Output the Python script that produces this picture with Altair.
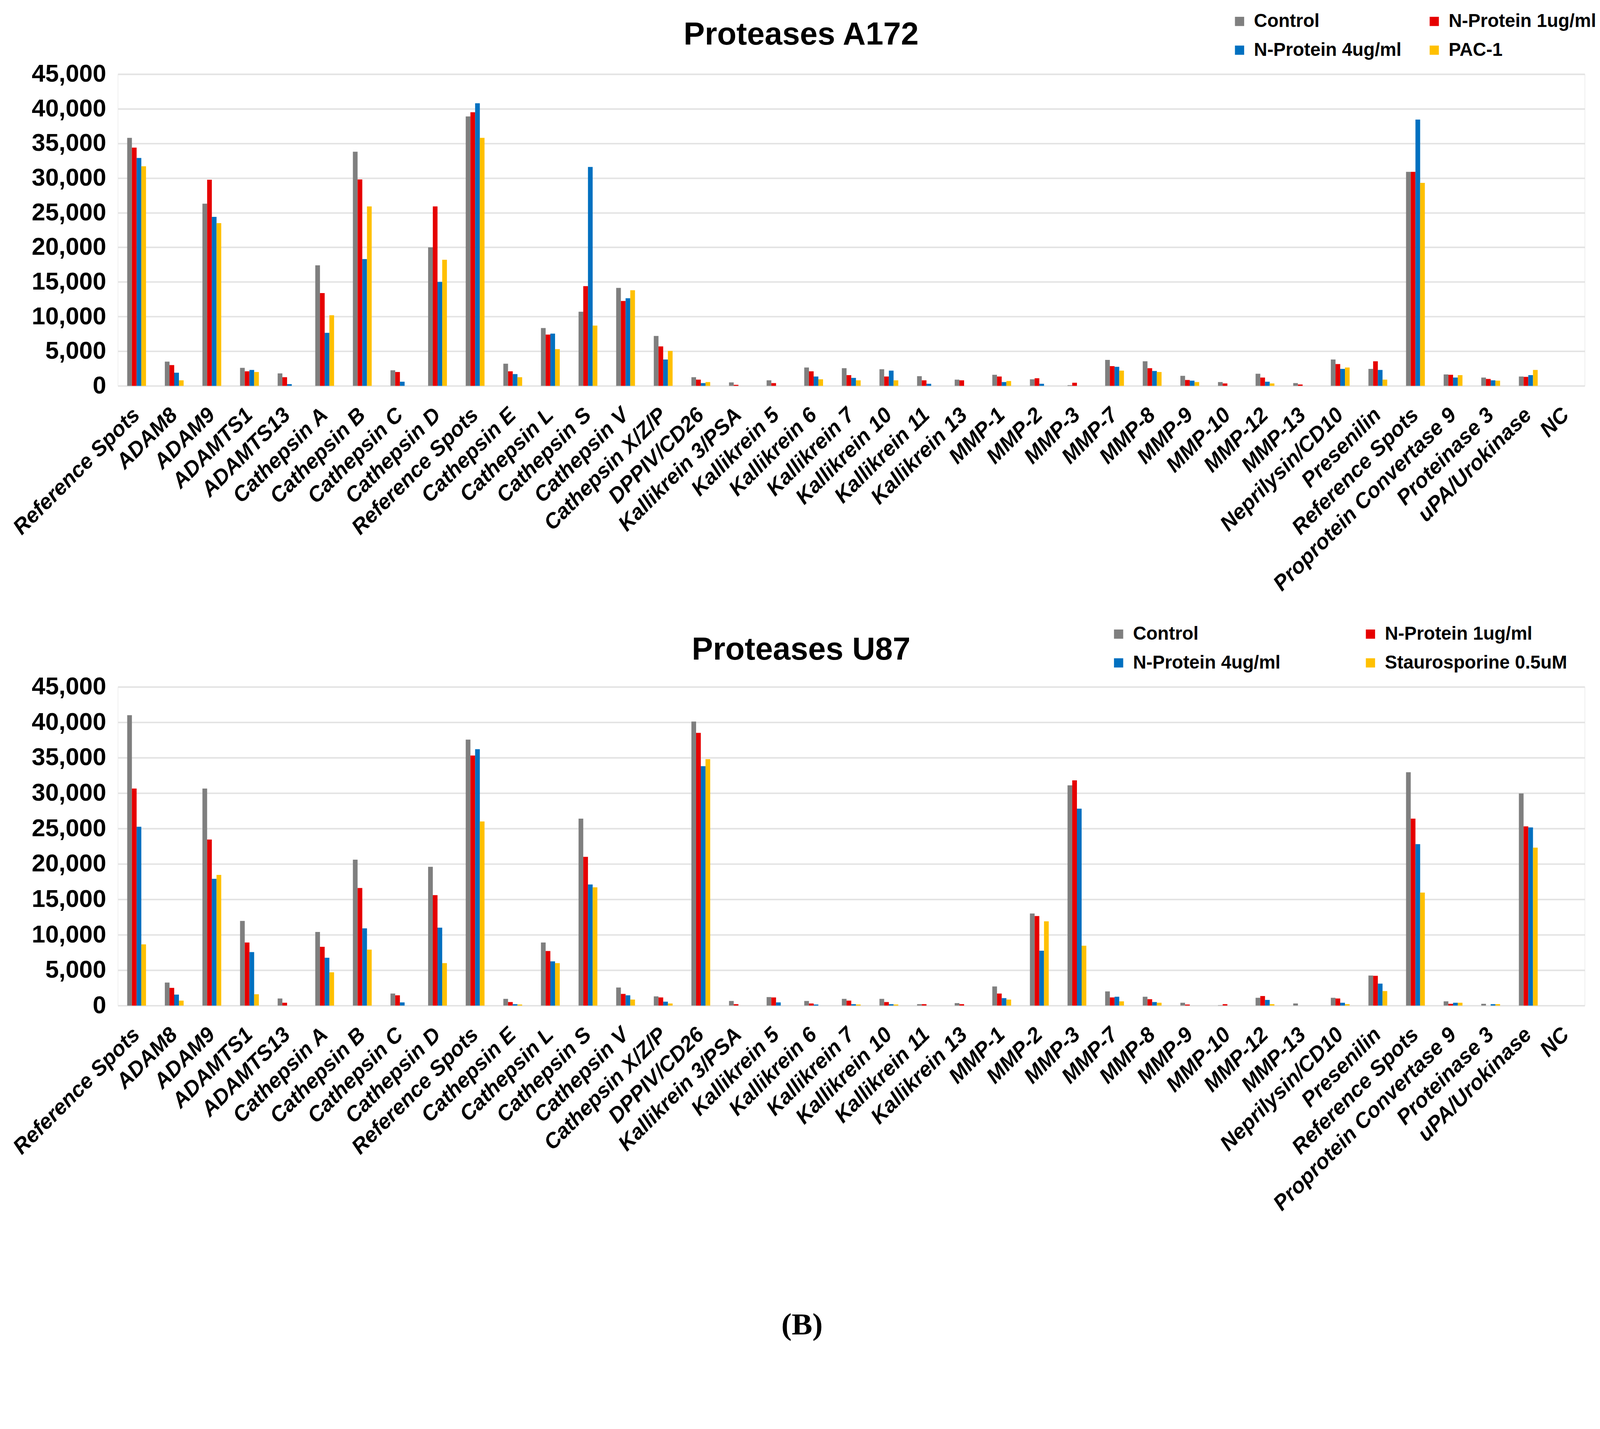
import altair as alt
import pandas as pd

PROTEASES = [
    "Reference Spots", "ADAM8", "ADAM9", "ADAMTS1", "ADAMTS13", "Cathepsin A",
    "Cathepsin B", "Cathepsin C", "Cathepsin D", "Reference Spots", "Cathepsin E",
    "Cathepsin L", "Cathepsin S", "Cathepsin V", "Cathepsin X/Z/P", "DPPIV/CD26",
    "Kallikrein 3/PSA", "Kallikrein 5", "Kallikrein 6", "Kallikrein 7",
    "Kallikrein 10", "Kallikrein 11", "Kallikrein 13", "MMP-1", "MMP-2", "MMP-3",
    "MMP-7", "MMP-8", "MMP-9", "MMP-10", "MMP-12", "MMP-13", "Neprilysin/CD10",
    "Presenilin", "Reference Spots", "Proprotein Convertase 9", "Proteinase 3",
    "uPA/Urokinase", "NC",
]

SERIES_A172 = ["Control", "N-Protein 1ug/ml", "N-Protein 4ug/ml", "PAC-1"]
SERIES_U87 = ["Control", "N-Protein 1ug/ml", "N-Protein 4ug/ml", "Staurosporine 0.5uM"]
COLOURS = ["#7f7f7f", "#e60000", "#0070c0", "#ffc000"]

# A172
A172_CONTROL = [35800, 3500, 26300, 2600, 1800, 17400, 33800, 2250, 20000, 38900,
                3200, 8350, 10700, 14150, 7200, 1250, 500, 800, 2650, 2550, 2400,
                1400, 900, 1600, 950, 100, 3750, 3550, 1450, 550, 1750, 400, 3800,
                2450, 30900, 1650, 1200, 1350, 0]
A172_N1 = [34400, 3000, 29750, 2100, 1250, 13400, 29800, 2000, 25900, 39500,
           2100, 7400, 14400, 12250, 5700, 900, 150, 400, 2100, 1550, 1350,
           800, 800, 1350, 1100, 450, 2850, 2550, 850, 350, 1200, 200, 3150,
           3550, 30900, 1600, 1000, 1300, 0]
A172_N4 = [32900, 1900, 24400, 2300, 250, 7650, 18300, 600, 15000, 40800,
           1700, 7550, 31600, 12650, 3800, 400, 0, 0, 1350, 1150, 2200,
           300, 0, 550, 300, 0, 2750, 2150, 750, 0, 600, 0, 2450,
           2300, 38450, 1200, 800, 1550, 0]
A172_PAC1 = [31700, 800, 23500, 2000, 0, 10200, 25900, 0, 18200, 35800,
             1250, 5300, 8700, 13800, 5050, 550, 0, 0, 950, 800, 800,
             0, 0, 700, 0, 0, 2200, 2000, 550, 0, 350, 0, 2650,
             900, 29300, 1550, 750, 2300, 0]

# U87
U87_CONTROL = [41000, 3250, 30650, 11950, 1000, 10400, 20600, 1700, 19600, 37550,
               950, 8900, 26400, 2550, 1300, 40100, 650, 1200, 650, 950, 950,
               200, 350, 2700, 13000, 31100, 2000, 1250, 400, 50, 1100, 300, 1100,
               4250, 32950, 600, 250, 29950, 0]
U87_N1 = [30650, 2500, 23450, 8900, 400, 8300, 16600, 1450, 15600, 35300,
          500, 7700, 21000, 1650, 1150, 38500, 200, 1150, 300, 700, 500,
          200, 200, 1700, 12650, 31800, 1150, 900, 150, 200, 1350, 0, 1000,
          4200, 26400, 250, 0, 25300, 0]
U87_N4 = [25250, 1550, 17900, 7550, 0, 6750, 10900, 450, 11000, 36200,
          200, 6250, 17100, 1450, 550, 33800, 0, 450, 150, 200, 200,
          0, 0, 1050, 7750, 27800, 1250, 500, 0, 0, 800, 0, 400,
          3100, 22800, 400, 200, 25150, 0]
U87_STAU = [8650, 700, 18450, 1600, 0, 4700, 7900, 0, 6000, 26000,
            150, 6000, 16700, 850, 300, 34800, 0, 0, 0, 150, 150,
            0, 0, 850, 11900, 8450, 600, 400, 0, 0, 200, 0, 200,
            2050, 15950, 400, 200, 22300, 0]

Y_TICKS = [0, 5000, 10000, 15000, 20000, 25000, 30000, 35000, 40000, 45000]

FONT = "Liberation Sans"
PLOT_WIDTH = 3978

# duplicate "Reference Spots" names, so the axis runs on positions
LABEL_EXPR = "[" + ",".join("'%s'" % p for p in PROTEASES) + "][datum.value]"


def to_long(series_names, columns):
    rows = []
    for name, values in zip(series_names, columns):
        for pos, value in enumerate(values):
            rows.append({"pos": pos, "series": name, "value": value})
    return pd.DataFrame(rows)


def x_axis(panel_label=None):
    kwargs = dict(labelExpr=LABEL_EXPR, labelAngle=-45,
                  labelAlign="right", labelBaseline="middle",
                  labelFont=FONT, labelFontSize=58, labelFontWeight="bold",
                  labelFontStyle="italic", labelColor="black",
                  labelPadding=70, labelLimit=2000, labelOverlap=False,
                  domain=False, ticks=False, tickSize=0, grid=False)
    if panel_label is None:
        return alt.Axis(title=None, **kwargs)
    # the figure's panel letter sits under the lower chart
    return alt.Axis(title=panel_label, titleFont="Liberation Serif", titleFontSize=84,
                    titleFontWeight="bold", titleColor="black",
                    titleX=1855, titleY=891, titleAlign="center",
                    titleBaseline="alphabetic", **kwargs)


def protease_chart(title, series_names, columns, legend_x, legend_gap, title_offset,
                   height, panel_label=None):
    df = to_long(series_names, columns)
    return alt.Chart(df).mark_bar().encode(
        x=alt.X("pos:O",
                scale=alt.Scale(paddingInner=0.5, paddingOuter=0.25),
                axis=x_axis(panel_label)),
        xOffset=alt.XOffset("series:N", sort=series_names),
        y=alt.Y("value:Q",
                scale=alt.Scale(domain=[0, 45000], nice=False),
                axis=alt.Axis(title=None, values=Y_TICKS, format=",d",
                              labelFont=FONT, labelFontSize=66, labelFontWeight="bold",
                              labelColor="black", labelPadding=32, labelLimit=1000,
                              domain=False, ticks=False, tickSize=0,
                              gridColor="#e3e3e3", gridWidth=4)),
        color=alt.Color("series:N", sort=series_names,
                        scale=alt.Scale(domain=series_names, range=COLOURS),
                        legend=alt.Legend(title=None, orient="none",
                                          legendX=legend_x, legendY=-168,
                                          direction="horizontal",
                                          columns=2, gridAlign="all",
                                          columnPadding=legend_gap, rowPadding=28,
                                          symbolType="square", symbolSize=625,
                                          symbolStrokeWidth=0, labelOffset=14,
                                          labelFont=FONT, labelFontSize=50,
                                          labelFontWeight="bold", labelColor="black",
                                          labelLimit=2000, padding=0)),
    ).properties(
        width=PLOT_WIDTH,
        height=height,
        title=alt.TitleParams(title, font=FONT, fontSize=86, fontWeight="bold",
                              color="black", anchor="middle", frame="group",
                              dx=-136, offset=title_offset),
    )


top = protease_chart("Proteases A172", SERIES_A172,
                     [A172_CONTROL, A172_N1, A172_N4, A172_PAC1],
                     legend_x=3017, legend_gap=63, title_offset=-106, height=845)
bottom = protease_chart("Proteases U87", SERIES_U87,
                        [U87_CONTROL, U87_N1, U87_N4, U87_STAU],
                        legend_x=2689, legend_gap=124, title_offset=-112, height=864,
                        panel_label="(B)")

chart = alt.vconcat(top, bottom, spacing=79).resolve_scale(
    color="independent", x="independent", xOffset="independent"
).properties(
    padding={"left": 16, "top": -81, "right": 0, "bottom": 4},
).configure_view(stroke=None).configure(background="white")

chart.save("out.html", embed_options={"renderer": "svg", "actions": False})
